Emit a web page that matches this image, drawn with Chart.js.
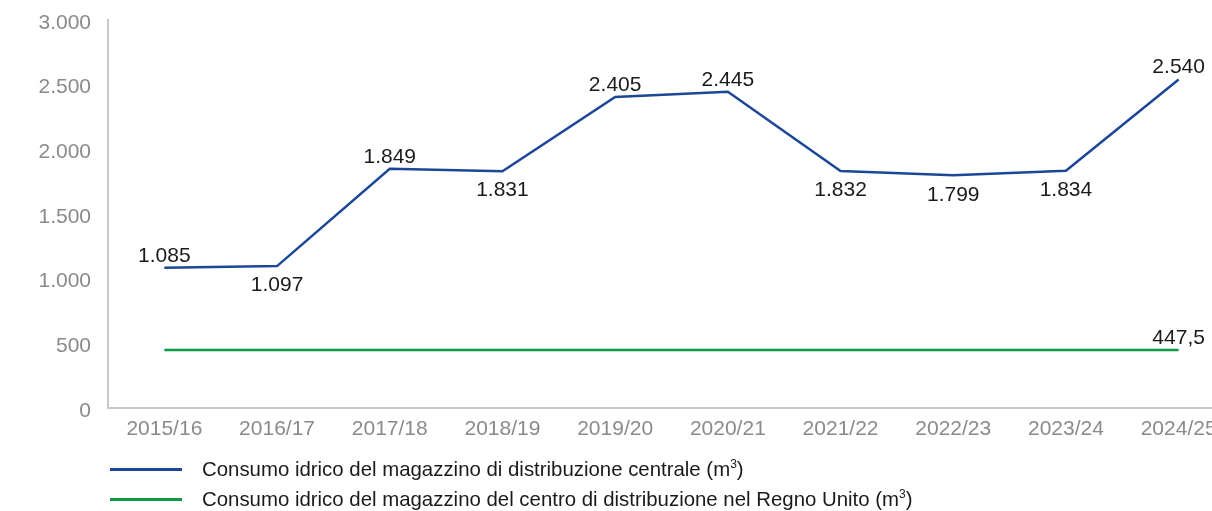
<!DOCTYPE html>
<html>
<head>
<meta charset="utf-8">
<script src="https://cdn.jsdelivr.net/npm/chart.js@4.4.1/dist/chart.umd.min.js"></script>
<style>
  html, body { margin: 0; padding: 0; background: #fff; width: 1212px; height: 511px; overflow: hidden; }
  #wrap { position: relative; width: 1240px; height: 511px; }
  #legend { position: absolute; left: 110px; top: 454px; font-family: "Liberation Sans", Arial, sans-serif; font-size: 20.4px; color: #1a1a1a; }
  .item { height: 30px; display: flex; align-items: center; }
  .swatch { width: 72px; height: 3px; margin-right: 20px; }
  sup { font-size: 12px; line-height: 0; vertical-align: 8px; }
</style>
</head>
<body>
<div id="wrap">
  <canvas id="lineChart" width="1240" height="511"></canvas>
  <div id="legend"></div>
</div>
<script>
const CHART = document.getElementById('lineChart');

var years = ['2015/16', '2016/17', '2017/18', '2018/19', '2019/20', '2020/21', '2021/22', '2022/23', '2023/24', '2024/25'];
var centrale = [1085, 1097, 1849, 1831, 2405, 2445, 1832, 1799, 1834, 2540];
var regnoUnito = [447.5, 447.5, 447.5, 447.5, 447.5, 447.5, 447.5, 447.5, 447.5, 447.5];
var yTicks = [0, 500, 1000, 1500, 2000, 2500, 3000];

// where the value labels go: 1 = above the point, -1 = below, 0 = none
var centraleSide = [1, -1, 1, -1, 1, 1, -1, -1, -1, 1];
var regnoSide = [0, 0, 0, 0, 0, 0, 0, 0, 0, 1];

var FONT = '"Liberation Sans", Arial, sans-serif';

function fmt(v) {
  var parts = String(v).split('.');
  var int = parts[0].replace(/\B(?=(\d{3})+(?!\d))/g, '.');
  return parts.length > 1 ? int + ',' + parts[1] : int;
}

var valueLabels = {
  id: 'valueLabels',
  afterDatasetsDraw: function(chart) {
    var ctx = chart.ctx;
    ctx.save();
    ctx.font = '21px ' + FONT;
    ctx.fillStyle = '#1a1a1a';
    ctx.textAlign = 'center';
    chart.data.datasets.forEach(function(ds, i) {
      var meta = chart.getDatasetMeta(i);
      meta.data.forEach(function(pt, j) {
        var side = ds.sides[j];
        if (!side) return;
        if (side > 0) {
          ctx.textBaseline = 'alphabetic';
          ctx.fillText(fmt(ds.data[j]), pt.x, pt.y - 6);
        } else {
          ctx.textBaseline = 'top';
          ctx.fillText(fmt(ds.data[j]), pt.x, pt.y + 9);
        }
      });
    });
    ctx.restore();
  }
};

var lineChart = new Chart(CHART, {
  type: 'line',
  data: {
    labels: years,
    datasets: [
      {
        label: 'Consumo idrico del magazzino di distribuzione centrale (m3)',
        data: centrale,
        sides: centraleSide,
        borderColor: '#1c4797',
        borderWidth: 2.5,
        pointRadius: 0,
        fill: false,
        tension: 0
      },
      {
        label: 'Consumo idrico del magazzino del centro di distribuzione nel Regno Unito (m3)',
        data: regnoUnito,
        sides: regnoSide,
        borderColor: '#0f9a47',
        borderWidth: 2.5,
        pointRadius: 0,
        fill: false,
        tension: 0
      }
    ]
  },
  options: {
    responsive: false,
    animation: false,
    layout: { padding: { top: 20, right: 5, left: 0, bottom: 0 } },
    plugins: {
      legend: { display: false },
      tooltip: { enabled: false }
    },
    scales: {
      x: {
        offset: true,
        grid: { display: true, drawOnChartArea: false, drawTicks: false },
        border: { display: true, color: '#c8c8c8', width: 2 },
        ticks: { color: '#8a8a8a', font: { family: FONT, size: 21 }, padding: 9, maxRotation: 0, autoSkip: false },
        afterFit: function(scale) { scale.height = 103; }
      },
      y: {
        min: 0,
        max: 3000,
        afterBuildTicks: function(scale) { scale.ticks = yTicks.map(function(v) { return { value: v }; }); },
        grid: { display: true, drawOnChartArea: false, drawTicks: false },
        border: { display: true, color: '#c8c8c8', width: 2 },
        ticks: {
          color: '#8a8a8a',
          font: { family: FONT, size: 21 },
          padding: 17,
          labelOffset: 3,
          callback: function(v) { return fmt(v); }
        },
        afterFit: function(scale) {
          scale.width = 108;
          scale.paddingTop = 0;
          scale.paddingBottom = 0;
        }
      }
    }
  },
  plugins: [valueLabels]
});

var legend = document.getElementById('legend');
lineChart.data.datasets.forEach(function(ds) {
  var row = document.createElement('div');
  row.className = 'item';
  var sw = document.createElement('div');
  sw.className = 'swatch';
  sw.style.background = ds.borderColor;
  var txt = document.createElement('span');
  txt.innerHTML = ds.label.replace(/m3\)$/, 'm<sup>3</sup>)');
  row.appendChild(sw);
  row.appendChild(txt);
  legend.appendChild(row);
});
</script>
</body>
</html>
